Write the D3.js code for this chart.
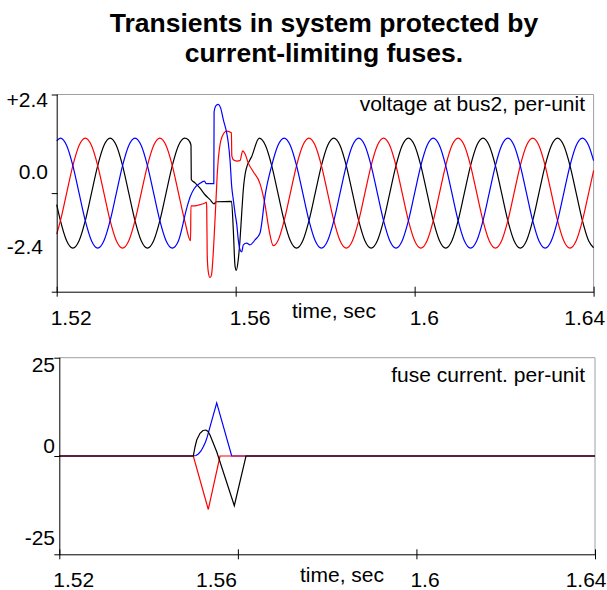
<!DOCTYPE html>
<html>
<head>
<meta charset="utf-8">
<script src="https://cdn.jsdelivr.net/npm/d3@7"></script>
<style>
  body { margin: 0; background: #fff; }
  text { font-family: "Liberation Sans", Arial, sans-serif; fill: #000; }
</style>
</head>
<body>
<script>
//sample times of the steady-state waves (every 1/12 of a 60 Hz cycle)
let timeV = [1.52,
  1.520833, 1.522222, 1.523611, 1.525000, 1.526389, 1.527778, 1.529167, 1.530556, 1.531944, 1.533333, 1.534722, 1.536111,
  1.537500, 1.538889, 1.540278, 1.541667, 1.543056, 1.544444, 1.545833, 1.547222, 1.548611, 1.550000, 1.551389, 1.552778,
  1.554167, 1.555556, 1.556944, 1.558333, 1.559722, 1.561111, 1.562500, 1.563889, 1.565278, 1.566667, 1.568056, 1.569444,
  1.570833, 1.572222, 1.573611, 1.575000, 1.576389, 1.577778, 1.579167, 1.580556, 1.581944, 1.583333, 1.584722, 1.586111,
  1.587500, 1.588889, 1.590278, 1.591667, 1.593056, 1.594444, 1.595833, 1.597222, 1.598611, 1.600000, 1.601389, 1.602778,
  1.604167, 1.605556, 1.606944, 1.608333, 1.609722, 1.611111, 1.612500, 1.613889, 1.615278, 1.616667, 1.618056, 1.619444,
  1.620833, 1.622222, 1.623611, 1.625000, 1.626389, 1.627778, 1.629167, 1.630556, 1.631944, 1.633333, 1.634722, 1.636111,
  1.637500, 1.638889,
  1.64];

//bus2 voltages, per-unit (null = replaced by the fault arrays below)
let blueV = [1.27,
  1.34, 1.16, 0.67, 0, -0.67, -1.16, -1.34, -1.16, -0.67, 0, 0.67, 1.16,
  1.34, 1.16, 0.67, 0, -0.67, -1.16, -1.34, -1.16, null, null, null, null,
  null, null, null, null, null, null, null, null, null, 0, 0.67, 1.16,
  1.34, 1.16, 0.67, 0, -0.67, -1.16, -1.34, -1.16, -0.67, 0, 0.67, 1.16,
  1.34, 1.16, 0.67, 0, -0.67, -1.16, -1.34, -1.16, -0.67, 0, 0.67, 1.16,
  1.34, 1.16, 0.67, 0, -0.67, -1.16, -1.34, -1.16, -0.67, 0, 0.67, 1.16,
  1.34, 1.16, 0.67, 0, -0.67, -1.16, -1.34, -1.16, -0.67, 0, 0.67, 1.16,
  1.34, 1.16,
  0.79];
let redV = [-1.00,
  -0.67, 0, 0.67, 1.16, 1.34, 1.16, 0.67, 0, -0.67, -1.16, -1.34, -1.16,
  -0.67, 0, 0.67, 1.16, 1.34, 1.16, 0.67, 0, -0.67, null, null, null,
  null, null, null, null, null, null, null, null, null, null, null, -1.16,
  -0.67, 0, 0.67, 1.16, 1.34, 1.16, 0.67, 0, -0.67, -1.16, -1.34, -1.16,
  -0.67, 0, 0.67, 1.16, 1.34, 1.16, 0.67, 0, -0.67, -1.16, -1.34, -1.16,
  -0.67, 0, 0.67, 1.16, 1.34, 1.16, 0.67, 0, -0.67, -1.16, -1.34, -1.16,
  -0.67, 0, 0.67, 1.16, 1.34, 1.16, 0.67, 0, -0.67, -1.16, -1.34, -1.16,
  -0.67, 0,
  0.55];
let blackV = [-0.28,
  -0.67, -1.16, -1.34, -1.16, -0.67, 0, 0.67, 1.16, 1.34, 1.16, 0.67, 0,
  -0.67, -1.16, -1.34, -1.16, -0.67, 0, 0.67, 1.16, 1.34, null, null, null,
  null, null, null, null, null, null, null, null, 1.34, 1.16, 0.67, 0,
  -0.67, -1.16, -1.34, -1.16, -0.67, 0, 0.67, 1.16, 1.34, 1.16, 0.67, 0,
  -0.67, -1.16, -1.34, -1.16, -0.67, 0, 0.67, 1.16, 1.34, 1.16, 0.67, 0,
  -0.67, -1.16, -1.34, -1.16, -0.67, 0, 0.67, 1.16, 1.34, 1.16, 0.67, 0,
  -0.67, -1.16, -1.34, -1.16, -0.67, 0, 0.67, 1.16, 1.34, 1.16, 0.67, 0,
  -0.67, -1.16,
  -1.33];

//voltages during the fault, [time, per-unit]
let blueFault = [
  [1.549124, -0.34], [1.549906, -0.07], [1.550688, 0.10], [1.552029, 0.24], [1.553035, 0.29],
  [1.553438, 0.23], [1.555114, 0.23], [1.555181, 1.98], [1.555606, 2.13], [1.556120, 2.16],
  [1.556611, 2.08], [1.557237, 1.79], [1.557997, 1.46], [1.558355, 1.22], [1.558735, 0.81],
  [1.559115, 0.16], [1.559473, -0.16], [1.559853, -0.48], [1.560232, -0.75], [1.560590, -1.14],
  [1.560970, -1.38], [1.561350, -1.43], [1.561707, -1.26], [1.562468, -1.22], [1.563205, -1.26],
  [1.564323, -1.14], [1.565440, -0.97]
];
let redFault = [
  [1.549928, -1.16], [1.549996, -0.31], [1.550912, -0.31], [1.552029, -0.28], [1.553147, -0.24],
  [1.553438, -0.22], [1.553527, -0.33], [1.553639, -1.50], [1.553884, -1.92], [1.554264, -2.06],
  [1.554600, -1.99], [1.554868, -1.67], [1.555159, -1.13], [1.555606, -0.16], [1.555941, 0.57],
  [1.556388, 1.10], [1.556947, 1.37], [1.557997, 1.51], [1.559048, 1.47], [1.559137, 0.91],
  [1.559473, 0.81], [1.560232, 0.78], [1.560970, 0.79], [1.561574, 1.03], [1.562088, 0.96],
  [1.562825, 0.73], [1.563943, 0.52], [1.565440, 0.23], [1.566558, -0.28], [1.567452, -0.89],
  [1.568413, -1.28]
];
let blackFault = [
  [1.549414, 1.30], [1.550018, 1.17], [1.550080, 0.33], [1.550912, 0.25], [1.552029, 0.12],
  [1.553147, -0.04], [1.554264, -0.16], [1.555159, -0.26], [1.555717, -0.21], [1.559070, -0.20],
  [1.559473, -0.89], [1.559853, -1.77], [1.560143, -1.88], [1.560523, -1.67], [1.560970, -1.14],
  [1.561350, -0.49], [1.561707, 0.08], [1.562311, 0.57], [1.563585, 0.89]
];

//fuse currents, [time, per-unit]
let fuseBlue = [
  [1.52, 0], [1.550018, 0], [1.550623, 0.13], [1.551138, 0.51], [1.551743, 1.27], [1.552258, 2.37],
  [1.552751, 3.56], [1.553154, 4.91], [1.55526, 13.5], [1.55862, 0], [1.64, 0]
];
let fuseRed = [
  [1.52, 0], [1.550018, 0], [1.553378, -13.6], [1.556, 0], [1.64, 0]
];
let fuseBlack = [
  [1.52, 0], [1.550018, 0], [1.5504, 2.29], [1.55078, 4.07], [1.551519, 5.77], [1.55219, 6.49],
  [1.552863, 6.61], [1.55331, 6.23], [1.553759, 5.34], [1.55526, 1.09], [1.559203, -12.64],
  [1.561823, 0], [1.64, 0]
];

//ticks
let timeTicks = [1.52, 1.56, 1.6, 1.64];
let timeTickLabels = ['1.52', '1.56', '1.6', '1.64'];
let voltTicks = [-2.4, 0, 2.4];
let voltTickLabels = ['-2.4', '0.0', '+2.4'];
let currTicks = [-25, 0, 25];
let currTickLabels = ['-25', '0', '25'];

let svg = d3.select('body').append('svg')
            .attr('width', 607)
            .attr('height', 590);

//title
svg.append('text')
    .attr('x', 324).attr('y', 32)
    .attr('text-anchor', 'middle')
    .style('font-size', '26.5px').style('font-weight', 'bold')
    .text('Transients in system protected by');
svg.append('text')
    .attr('x', 324).attr('y', 62)
    .attr('text-anchor', 'middle')
    .style('font-size', '26.5px').style('font-weight', 'bold')
    .text('current-limiting fuses.');

//joins the steady samples with the fault samples of one phase
let mergeSeries = (values, fault) => {
    let pts = [];
    timeV.forEach((t, i) => {
        if (values[i] !== null) pts.push([t, values[i]]);
    });
    return pts.concat(fault).sort((a, b) => a[0] - b[0]);
};

let drawPanel = (p) => {
    let g = svg.append('g');
    let x = d3.scaleLinear().domain([1.52, 1.64]).range([p.left, p.right]);
    let y = d3.scaleLinear().domain(p.domain).range([p.bottom, p.top]);

    //grey frame on top and right
    g.append('path')
        .attr('d', `M${p.left},${p.top}H${p.right}V${p.bottom}`)
        .attr('fill', 'none')
        .attr('stroke', '#a0a0a0');

    //lines
    let line = d3.line()
                 .x(d => x(d[0]))
                 .y(d => y(d[1]))
                 .curve(p.curve);
    p.series.forEach((s) => {
        g.append('path')
            .datum(s.data)
            .attr('d', line)
            .attr('fill', 'none')
            .attr('stroke', s.color)
            .attr('stroke-width', 1.2);
    });

    //axes
    let xAxis = g.append('g')
                 .attr('transform', `translate(0,${p.bottom})`)
                 .call(d3.axisBottom(x).tickValues(timeTicks).tickFormat('').tickSizeOuter(0));
    xAxis.selectAll('.tick line').attr('y1', -5).attr('y2', 5);
    let yAxis = g.append('g')
                 .attr('transform', `translate(${p.left},0)`)
                 .call(d3.axisLeft(y).tickValues(p.ticks).tickFormat('').tickSizeOuter(0));
    yAxis.selectAll('.tick line').attr('x1', 1).attr('x2', -5);
    g.selectAll('.domain').attr('stroke', '#000');

    //tick labels
    p.ticks.forEach((v, i) => {
        g.append('text')
            .attr('x', p.yLabelRight[i])
            .attr('y', y(v) + p.yLabelShift[i])
            .attr('dy', '0.36em')
            .attr('text-anchor', 'end')
            .style('font-size', '21px')
            .text(p.tickLabels[i]);
    });
    timeTicks.forEach((t, i) => {
        g.append('text')
            .attr('x', x(t) + p.xLabelDx[i])
            .attr('y', p.xLabelY)
            .attr('text-anchor', p.xLabelAnchor[i])
            .style('font-size', '21px')
            .text(timeTickLabels[i]);
    });

    //axis name and panel name
    g.append('text')
        .attr('x', p.timeX).attr('y', p.timeY)
        .style('font-size', '21px')
        .text('time, sec');
    g.append('text')
        .attr('x', 585).attr('y', p.nameY)
        .attr('text-anchor', 'end')
        .style('font-size', '21px')
        .text(p.name);
};

drawPanel({
    left: 56.7, right: 593.6, top: 94.5, bottom: 291.7,
    domain: [-2.4, 2.4],
    ticks: voltTicks, tickLabels: voltTickLabels,
    yLabelRight: [43, 48, 48], yLabelShift: [-45.7, -22, 5],
    xLabelY: 325, xLabelDx: [-6, -6, -5, 11.5], xLabelAnchor: ['start', 'start', 'start', 'end'],
    timeX: 292, timeY: 318,
    name: 'voltage at bus2, per-unit', nameY: 111,
    curve: d3.curveMonotoneX,
    series: [
        {data: mergeSeries(blackV, blackFault), color: '#000000'},
        {data: mergeSeries(redV, redFault), color: '#ff0000'},
        {data: mergeSeries(blueV, blueFault), color: '#0000ff'}
    ]
});

drawPanel({
    left: 59.3, right: 595, top: 357.7, bottom: 554.3,
    domain: [-25, 25],
    ticks: currTicks, tickLabels: currTickLabels,
    yLabelRight: [55, 55, 55], yLabelShift: [-16.6, -11, 6.3],
    xLabelY: 586.5, xLabelDx: [-6, -1, -6, 11.5], xLabelAnchor: ['start', 'end', 'start', 'end'],
    timeX: 300, timeY: 582,
    name: 'fuse current. per-unit', nameY: 382,
    curve: d3.curveLinear,
    series: [
        {data: fuseBlue, color: '#0000ff'},
        {data: fuseRed, color: '#ff0000'},
        {data: fuseBlack, color: '#000000'}
    ]
});
</script>
</body>
</html>
